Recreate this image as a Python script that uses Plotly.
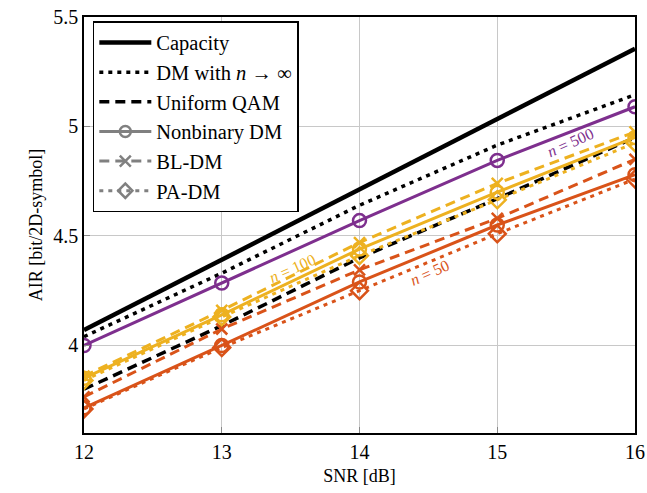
import plotly.graph_objects as go

snr = [12, 13, 14, 15, 16]

capacity = [4.07, 4.39, 4.71, 5.03, 5.355]
dm_inf = [4.04, 4.33, 4.64, 4.915, 5.145]
uniform_qam = [3.80, 4.09, 4.40, 4.67, 4.95]

# n = 500 (purple)
nb_500 = [4.0, 4.285, 4.57, 4.845, 5.09]
# n = 100 (yellow)
nb_100 = [3.85, 4.14, 4.44, 4.70, 4.95]
bl_100 = [3.86, 4.16, 4.47, 4.74, 4.975]
pa_100 = [3.84, 4.13, 4.41, 4.665, 4.925]
# n = 50 (orange)
nb_50 = [3.715, 4.0, 4.29, 4.55, 4.78]
bl_50 = [3.765, 4.075, 4.345, 4.58, 4.85]
pa_50 = [3.71, 3.99, 4.25, 4.51, 4.76]

ann_text = ["<i>n</i> = 500", "<i>n</i> = 100", "<i>n</i> = 50"]
ann_x = [15.53, 13.51, 14.51]
ann_y = [4.925, 4.35, 4.335]

PURPLE = "#7E2F8E"
YELLOW = "#EDB120"
ORANGE = "#D95319"
GRAY = "#808080"
FONT = "Liberation Serif"

DOT = "4px,5px"
DASH = "10px,6px"

fig = go.Figure()

def add(y, color, dash, width, symbol=None, msize=11, name=None, show=False):
    mode = "lines+markers" if symbol else "lines"
    fig.add_trace(go.Scatter(
        x=snr, y=y, mode=mode, name=name, showlegend=show,
        line=dict(color=color, dash=dash, width=width),
        marker=dict(symbol=symbol, size=msize, color=color,
                    line=dict(color=color, width=2.5)) if symbol else None,
    ))

add(capacity, "black", "solid", 4.5)
add(dm_inf, "black", DOT, 3.5)
add(uniform_qam, "black", DASH, 3.5)

add(pa_50, ORANGE, DOT, 3, "diamond-open", 13)
add(bl_50, ORANGE, DASH, 3, "x-thin-open", 11)
add(nb_50, ORANGE, "solid", 3, "circle-open", 13)

add(pa_100, YELLOW, DOT, 3, "diamond-open", 13)
add(bl_100, YELLOW, DASH, 3, "x-thin-open", 11)
add(nb_100, YELLOW, "solid", 3, "circle-open", 13)

add(nb_500, PURPLE, "solid", 3, "circle-open", 13)

# legend entries
legend_items = [
    ("Capacity", "black", "solid", 4.5, None),
    ("DM with <i>n</i> → ∞", "black", DOT, 3.5, None),
    ("Uniform QAM", "black", DASH, 3.5, None),
    ("Nonbinary DM", GRAY, "solid", 3, "circle-open"),
    ("BL-DM", GRAY, DASH, 3, "x-thin-open"),
    ("PA-DM", GRAY, DOT, 3, "diamond-open"),
]
for i, (nm, c, d, w, s) in enumerate(legend_items):
    fig.add_trace(go.Scatter(
        x=[None], y=[None], name=nm,
        mode="lines+markers" if s else "lines",
        line=dict(color=c, dash=d, width=w),
        marker=dict(symbol=s, size=11, color=c, line=dict(color=c, width=2.5)) if s else None,
    ))

colors = [PURPLE, YELLOW, ORANGE]
for t, x, y, c in zip(ann_text, ann_x, ann_y, colors):
    fig.add_annotation(x=x, y=y, text=t, showarrow=False, textangle=-24,
                       font=dict(family=FONT, size=16, color=c))

fig.update_layout(
    width=647, height=493,
    margin=dict(l=84, r=12, t=17, b=60),
    paper_bgcolor="white", plot_bgcolor="white",
    font=dict(family=FONT, size=19, color="black"),
    legend=dict(x=0.016, y=0.99, xanchor="left", yanchor="top",
                bordercolor="black", borderwidth=1.5, bgcolor="white",
                font=dict(family=FONT, size=20.5), tracegroupgap=0,
                itemwidth=52),
)
fig.update_xaxes(
    range=[12, 16], tickvals=snr, ticktext=[str(v) for v in snr],
    showgrid=True, gridcolor="#c8c8c8", gridwidth=1,
    showline=True, linecolor="black", linewidth=1.5, mirror=True,
    ticks="inside", tickcolor="#888888", ticklen=6, zeroline=False,
    automargin=False, tickfont=dict(size=20),
    title=dict(text="SNR [dB]", font=dict(family=FONT, size=18), standoff=8),
)
fig.update_yaxes(
    range=[3.6, 5.5], tickvals=[4, 4.5, 5, 5.5], ticktext=["4", "4.5", "5", "5.5"],
    showgrid=True, gridcolor="#c8c8c8", gridwidth=1,
    showline=True, linecolor="black", linewidth=1.5, mirror=True,
    ticks="inside", tickcolor="#888888", ticklen=6, zeroline=False,
    automargin=False, tickfont=dict(size=20),
    title=dict(text="AIR [bit/2D-symbol]", font=dict(family=FONT, size=18), standoff=6),
)

fig.write_html("out.html", config={"displayModeBar": False},
               post_script="document.body.style.margin='0';document.body.style.overflow='hidden';")
